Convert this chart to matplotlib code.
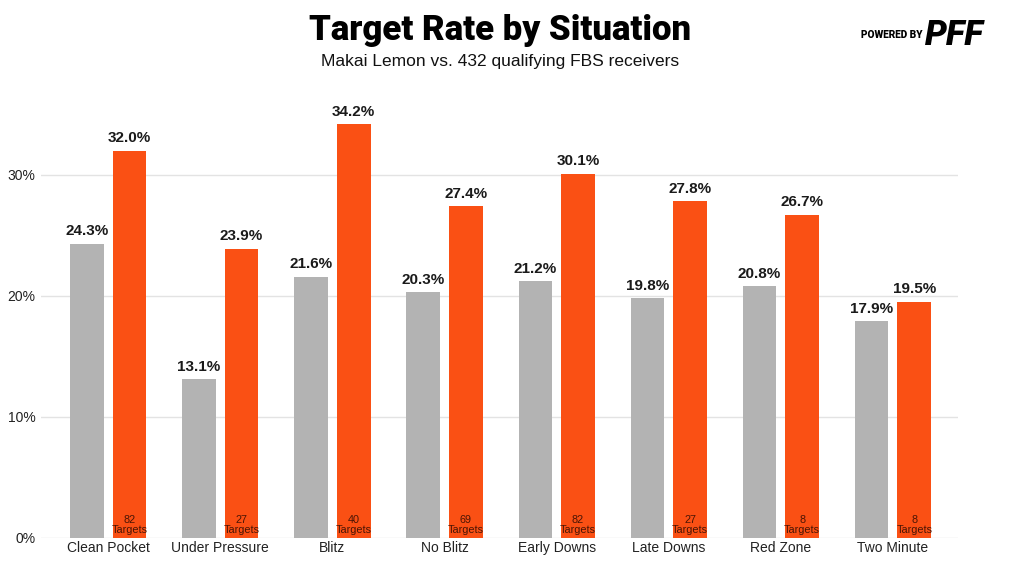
import numpy as np
import matplotlib
matplotlib.use("Agg")
import matplotlib.pyplot as plt

categories = ['Clean Pocket', 'Under Pressure', 'Blitz', 'No Blitz',
              'Early Downs', 'Late Downs', 'Red Zone', 'Two Minute']
fbs_rate = [24.3, 13.1, 21.6, 20.3, 21.2, 19.8, 20.8, 17.9]
lemon_rate = [32.0, 23.9, 34.2, 27.4, 30.1, 27.8, 26.7, 19.5]
lemon_targets = [82, 27, 40, 69, 82, 27, 8, 8]
y_ticks = [0, 10, 20, 30]

gray = '#b3b3b3'
orange = '#fa5014'

plt.rcParams['font.family'] = ['Liberation Sans', 'DejaVu Sans']

fig = plt.figure(figsize=(10.24, 5.71), dpi=100)
ax = fig.add_axes([0.040, 0.058, 0.8955, 0.7417])

x = np.arange(len(categories))
w = 0.30
off = 0.19

ax.bar(x - off, fbs_rate, w, color=gray, zorder=3)
ax.bar(x + off, lemon_rate, w, color=orange, zorder=3)

for i in range(len(categories)):
    ax.text(x[i] - off, fbs_rate[i] + 0.45, f'{fbs_rate[i]:.1f}%', ha='center',
            va='bottom', fontsize=11, fontweight='bold', color='#1a1a1a')
    ax.text(x[i] + off, lemon_rate[i] + 0.45, f'{lemon_rate[i]:.1f}%', ha='center',
            va='bottom', fontsize=11, fontweight='bold', color='#1a1a1a')
    ax.text(x[i] + off, 0.2, f'{lemon_targets[i]}\nTargets', ha='center',
            va='bottom', fontsize=7.8, color='#4a1505', linespacing=1.0, zorder=4)

ax.set_xlim(-0.60, 7.58)
ax.set_ylim(0, 35)
ax.set_yticks(y_ticks)
ax.set_yticklabels([f'{t}%' for t in y_ticks])
ax.set_xticks(x)
ax.set_xticklabels(categories)
ax.tick_params(axis='both', length=0, labelsize=10, colors='#222222')
ax.tick_params(axis='x', pad=2)
ax.tick_params(axis='y', pad=4)
ax.grid(axis='y', color='#e3e3e3', linewidth=1.0, zorder=0)
for s in ax.spines.values():
    s.set_visible(False)

fig.text(0.488, 0.946, 'Target Rate by Situation', ha='center', va='center',
         fontsize=25, fontweight='black', color='black',
         family=['Roboto', 'Liberation Sans', 'DejaVu Sans'])
fig.text(0.488, 0.893, 'Makai Lemon vs. 432 qualifying FBS receivers', ha='center',
         va='center', fontsize=12.5, color='#111111')

# logo
fig.text(0.901, 0.938, 'POWERED BY', ha='right', va='center', fontsize=7.3,
         fontweight='black', color='black',
         family=['Roboto', 'Liberation Sans', 'DejaVu Sans'])
fig.text(0.903, 0.938, 'PFF', ha='left', va='center', fontsize=25,
         fontweight='black', fontstyle='italic', color='black',
         family=['Roboto', 'Liberation Sans', 'DejaVu Sans'])

fig.savefig('out.png', dpi=100)
